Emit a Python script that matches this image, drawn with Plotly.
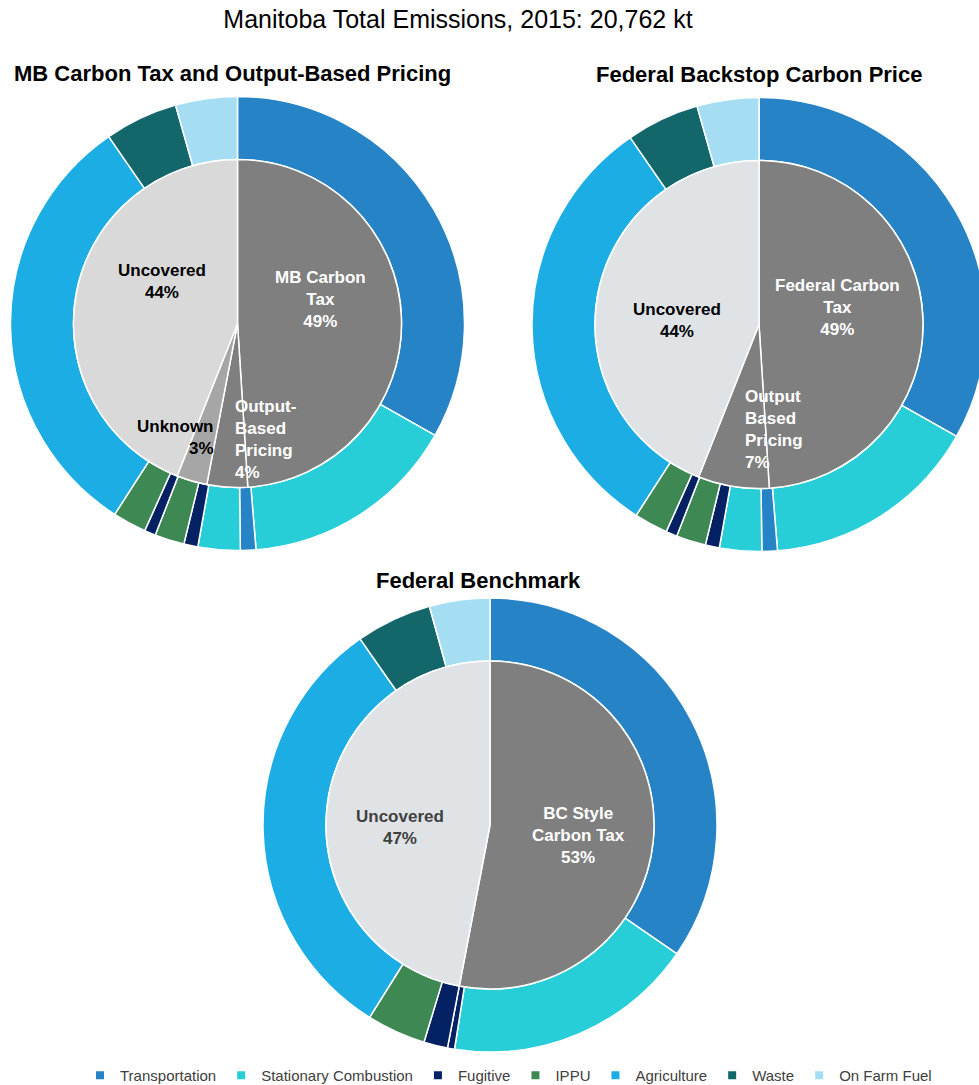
import plotly.graph_objects as go

# ------------------------------------------------------------------ data
total_kt = "20,762"
year = 2015

sectors = ["Transportation", "Stationary Combustion", "Fugitive", "IPPU",
           "Agriculture", "Waste", "On Farm Fuel"]
sector_colors = ["#2683C6", "#27CED7", "#042163", "#3E8853",
                 "#1CADE4", "#13676B", "#A5DEF3"]

# outer ring segments (% of provincial total), clockwise from 12 o'clock
provincial_ring_sector = ["Transportation", "Stationary Combustion", "Transportation",
                          "Stationary Combustion", "Fugitive", "IPPU", "Fugitive", "IPPU",
                          "Agriculture", "Waste", "On Farm Fuel"]
provincial_ring_share = [33.2, 15.5, 1.1, 3.0, 1.0, 2.1, 0.8, 2.4, 31.3, 5.2, 4.4]
mb_ring_coverage = ["MB Carbon Tax", "MB Carbon Tax", "Output-Based Pricing",
                    "Output-Based Pricing", "Unknown", "Unknown", "Uncovered",
                    "Uncovered", "Uncovered", "Uncovered", "Uncovered"]
backstop_ring_coverage = ["Federal Carbon Tax", "Federal Carbon Tax", "Output Based Pricing",
                          "Output Based Pricing", "Output Based Pricing", "Output Based Pricing",
                          "Uncovered", "Uncovered", "Uncovered", "Uncovered", "Uncovered"]

benchmark_ring_sector = ["Transportation", "Stationary Combustion", "Fugitive", "Fugitive",
                         "IPPU", "Agriculture", "Waste", "On Farm Fuel"]
benchmark_ring_share = [34.6, 17.9, 0.5, 1.7, 4.2, 31.4, 5.4, 4.3]
benchmark_ring_coverage = ["BC Style Carbon Tax", "BC Style Carbon Tax", "BC Style Carbon Tax",
                           "Uncovered", "Uncovered", "Uncovered", "Uncovered", "Uncovered"]

# inner pies: coverage shares (%)
mb_coverage = ["MB Carbon Tax", "Output-Based Pricing", "Unknown", "Uncovered"]
mb_coverage_pct = [49, 4, 3, 44]
backstop_coverage = ["Federal Carbon Tax", "Output Based Pricing", "Uncovered"]
backstop_coverage_pct = [49, 7, 44]
benchmark_coverage = ["BC Style Carbon Tax", "Uncovered"]
benchmark_coverage_pct = [53, 47]

# ------------------------------------------------------------------ style / layout
W, H = 990, 1092          # slightly larger than the window: right/bottom edge is cropped as in the original
R_OUT, R_IN = 227, 164
FONT = "Arial, 'Liberation Sans', sans-serif"
color_of = dict(zip(sectors, sector_colors))

charts = [
    dict(title="MB Carbon Tax and Output-Based Pricing", cx=237.5, cy=323.5, tx=232, ty=74,
         ring_sector=provincial_ring_sector, ring_share=provincial_ring_share,
         ring_cov=mb_ring_coverage, cov=mb_coverage, pct=mb_coverage_pct,
         inner_colors=["#7F7F7F", "#7F7F7F", "#A6A6A6", "#D9D9D9"],
         labels={
             "MB Carbon Tax": dict(text="MB Carbon<br>Tax", dx=82.5, dy=-24.5, anchor="center", color="white"),
             "Output-Based Pricing": dict(text="Output-<br>Based<br>Pricing", dx=-5, dy=116, anchor="left", color="white"),
             "Unknown": dict(text="Unknown", dx=-22, dy=114, anchor="right", color="black"),
             "Uncovered": dict(text="Uncovered", dx=-75.5, dy=-41.5, anchor="center", color="black"),
         }),
    dict(title="Federal Backstop Carbon Price", cx=759, cy=324.5, tx=759, ty=75,
         ring_sector=provincial_ring_sector, ring_share=provincial_ring_share,
         ring_cov=backstop_ring_coverage, cov=backstop_coverage, pct=backstop_coverage_pct,
         inner_colors=["#7F7F7F", "#7F7F7F", "#DFE3E6"],
         labels={
             "Federal Carbon Tax": dict(text="Federal Carbon<br>Tax", dx=78, dy=-17.5, anchor="center", color="white"),
             "Output Based Pricing": dict(text="Output<br>Based<br>Pricing", dx=-16, dy=105.5, anchor="left", color="white"),
             "Uncovered": dict(text="Uncovered", dx=-82, dy=-4.5, anchor="center", color="black"),
         }),
    dict(title="Federal Benchmark", cx=490, cy=825, tx=478, ty=580,
         ring_sector=benchmark_ring_sector, ring_share=benchmark_ring_share,
         ring_cov=benchmark_ring_coverage, cov=benchmark_coverage, pct=benchmark_coverage_pct,
         inner_colors=["#7F7F7F", "#DFE3E6"],
         labels={
             "BC Style Carbon Tax": dict(text="BC Style<br>Carbon Tax", dx=88, dy=10, anchor="center", color="white"),
             "Uncovered": dict(text="Uncovered", dx=-90, dy=2, anchor="center", color="#404040"),
         }),
]


def domain(cx, cy, r):
    return dict(x=[(cx - r) / W, (cx + r) / W], y=[1 - (cy + r) / H, 1 - (cy - r) / H])


fig = go.Figure()
annotations = []

for ch in charts:
    ring_labels = [f"{s} ({c})" for s, c in zip(ch["ring_sector"], ch["ring_cov"])]
    fig.add_trace(go.Pie(
        labels=ring_labels, values=ch["ring_share"], sort=False, direction="clockwise",
        rotation=0, hole=R_IN / R_OUT, domain=domain(ch["cx"], ch["cy"], R_OUT),
        marker=dict(colors=[color_of[s] for s in ch["ring_sector"]],
                    line=dict(color="white", width=1.5)),
        textinfo="none", showlegend=False, hovertemplate="%{label}: %{value}%<extra></extra>",
    ))
    fig.add_trace(go.Pie(
        labels=ch["cov"], values=ch["pct"], sort=False, direction="clockwise", rotation=0,
        domain=domain(ch["cx"], ch["cy"], R_IN),
        marker=dict(colors=ch["inner_colors"], line=dict(color="white", width=1.5)),
        textinfo="none", showlegend=False, hovertemplate="%{label}: %{value}%<extra></extra>",
    ))
    for lab, p in zip(ch["cov"], ch["pct"]):
        spec = ch["labels"][lab]
        annotations.append(dict(
            text=f"{spec['text']}<br>{p}%", xref="paper", yref="paper",
            x=(ch["cx"] + spec["dx"]) / W, y=1 - (ch["cy"] + spec["dy"]) / H,
            xanchor=spec["anchor"], yanchor="middle", align=spec["anchor"],
            showarrow=False, font=dict(family=FONT, size=17, color=spec["color"], weight="bold"),
        ))
    annotations.append(dict(
        text=ch["title"], xref="paper", yref="paper", x=ch["tx"] / W, y=1 - ch["ty"] / H,
        xanchor="center", yanchor="middle", showarrow=False,
        font=dict(family=FONT, size=22, color="black", weight="bold"),
    ))

for s, c in zip(sectors, sector_colors):
    fig.add_trace(go.Scatter(x=[None], y=[None], mode="markers", name=s,
                             marker=dict(symbol="square", size=8, color=c),
                             showlegend=True, hoverinfo="skip"))

fig.update_xaxes(visible=False)
fig.update_yaxes(visible=False)
fig.update_layout(
    width=W, height=H, margin=dict(l=0, r=0, t=0, b=0),
    paper_bgcolor="white", plot_bgcolor="white",
    title=dict(text=f"Manitoba Total Emissions, {year}: {total_kt} kt", x=458 / W, xanchor="center",
               y=1 - 19 / H, yanchor="middle", yref="container",
               font=dict(family=FONT, size=25, color="black")),
    annotations=annotations,
    legend=dict(orientation="h", x=80 / W, xanchor="left", y=0, yanchor="bottom",
                font=dict(family=FONT, size=15, color="#404040"), bgcolor="rgba(0,0,0,0)"),
)

fig.write_html("out.html", config={"displayModeBar": False},
               post_script="document.body.style.margin='0';document.body.style.overflow='hidden';")
